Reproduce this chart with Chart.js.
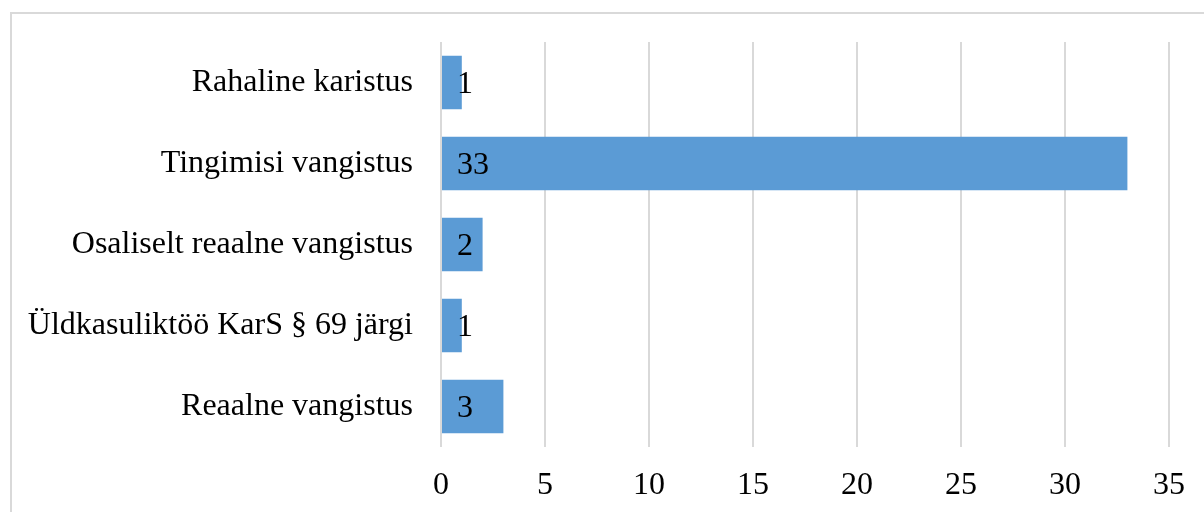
<!DOCTYPE html>
<html lang="et">
<head>
<meta charset="UTF-8">
<title>Karistused</title>
<style>
    html, body {
        margin: 0;
        padding: 0;
        background: #fff;
        overflow: hidden;
    }
    #wrap {
        position: relative;
        width: 1204px;
        height: 512px;
    }
    #frame {
        position: absolute;
        left: 10px;
        top: 12px;
        width: 1300px;
        height: 600px;
        border-left: 2px solid #d9d9d9;
        border-top: 2px solid #d9d9d9;
    }
    canvas {
        position: absolute;
        left: 0;
        top: 0;
    }
</style>
<script src="https://cdn.jsdelivr.net/npm/chart.js"></script>
</head>
<body>
<div id="wrap">
    <div id="frame"></div>
    <canvas id="chart" width="1204" height="512"></canvas>
</div>
<script>
// Andmed
const categories = [
    'Rahaline karistus',
    'Tingimisi vangistus',
    'Osaliselt reaalne vangistus',
    'Üldkasuliktöö KarS § 69 järgi',
    'Reaalne vangistus'
];
const values = [1, 33, 2, 1, 3];
const xTicks = [0, 5, 10, 15, 20, 25, 30, 35];

const FONT = "'Liberation Serif', 'Times New Roman', serif";

// Väärtused ribade sees, alguse lähedal
const valueLabels = {
    id: 'valueLabels',
    afterDatasetsDraw(chart) {
        const ctx = chart.ctx;
        const meta = chart.getDatasetMeta(0);
        const x0 = chart.scales.x.getPixelForValue(0);
        ctx.save();
        ctx.font = '32px ' + FONT;
        ctx.fillStyle = '#000';
        ctx.textAlign = 'left';
        ctx.textBaseline = 'middle';
        meta.data.forEach((bar, i) => {
            ctx.fillText(String(values[i]), x0 + 16, bar.y + 2);
        });
        ctx.restore();
    }
};

new Chart(document.getElementById('chart'), {
    type: 'bar',
    data: {
        labels: categories,
        datasets: [{
            data: values,
            backgroundColor: '#5B9BD5',
            borderWidth: 0,
            barPercentage: 0.66,
            categoryPercentage: 1
        }]
    },
    options: {
        indexAxis: 'y',
        responsive: false,
        animation: false,
        layout: {
            padding: { top: 42, right: 34, left: 0, bottom: 0 }
        },
        plugins: {
            legend: { display: false },
            tooltip: { enabled: false }
        },
        scales: {
            x: {
                min: 0,
                max: 35,
                afterBuildTicks(scale) {
                    scale.ticks = xTicks.map(v => ({ value: v }));
                },
                afterFit(scale) {
                    scale.height = 65;
                },
                grid: {
                    color: '#d9d9d9',
                    lineWidth: 2,
                    drawTicks: false
                },
                border: { display: false },
                ticks: {
                    color: '#000',
                    padding: 19,
                    font: { family: FONT, size: 32 }
                }
            },
            y: {
                afterFit(scale) {
                    scale.width = 441;
                    scale.paddingTop = 0;
                    scale.paddingBottom = 0;
                },
                grid: { display: false, drawTicks: false },
                border: { display: false },
                ticks: {
                    color: '#000',
                    padding: 28,
                    font: { family: FONT, size: 32 }
                }
            }
        }
    },
    plugins: [valueLabels]
});
</script>
</body>
</html>
